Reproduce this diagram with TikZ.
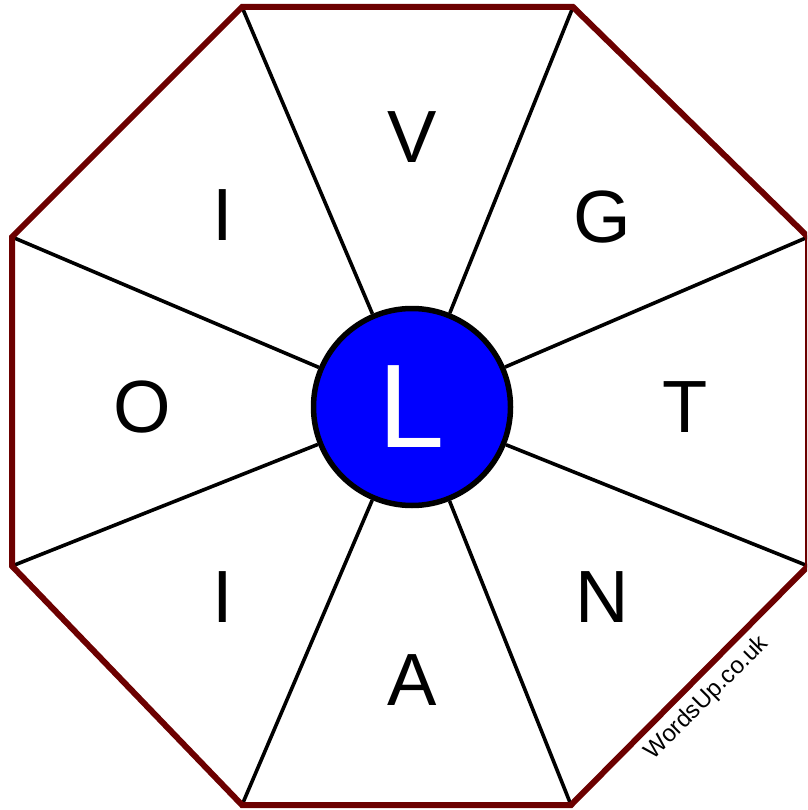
\documentclass[tikz,border=0pt]{standalone}
\usepackage{fontspec}
\setmainfont{Liberation Sans}
\definecolor{octred}{RGB}{108,0,0}
\definecolor{hubblue}{RGB}{0,0,255}
\begin{document}
\begin{tikzpicture}[x=1pt,y=-1pt,
  spoke/.style={line width=3.6pt,black},
  rim/.style={line width=6pt,octred,line join=miter},
  letter/.style={inner sep=0pt,font=\fontsize{74}{74}\selectfont},
  hub/.style={circle,draw=black,line width=5.5pt,fill=hubblue,minimum size=197pt,inner sep=0pt,text=white,font=\fontsize{119}{119}\selectfont}]
\useasboundingbox (0,0) rectangle (807,810);
\clip (0,0) rectangle (807,810);
\coordinate (p1) at (242,7);
\coordinate (p2) at (573,7);
\coordinate (p3) at (808,237);
\coordinate (p4) at (808,566);
\coordinate (p5) at (571,805);
\coordinate (p6) at (242,805);
\coordinate (p7) at (12,566);
\coordinate (p8) at (12,237);
\node[hub] (c) at (412,407) {L};
\foreach \i in {1,...,8} \draw[spoke] (p\i) -- (c);
\draw[rim] (p1) -- (p2) -- (p3) -- (p4) -- (p5) -- (p6) -- (p7) -- (p8) -- cycle;
\node[letter] (lv) at (412,137) {V};
\node[letter] (lg) at (602,217) {G};
\node[letter] (lt) at (685,407) {T};
\node[letter] (ln) at (602,597) {N};
\node[letter] (la) at (412,680) {A};
\node[letter] (li2) at (223,597) {I};
\node[letter] (lo) at (142,407) {O};
\node[letter] (li1) at (223,215) {I};
\node[inner sep=0pt,rotate=45,font=\fontsize{24}{24}\selectfont] (wm) at (707,698) {WordsUp.co.uk};
\end{tikzpicture}
\end{document}
